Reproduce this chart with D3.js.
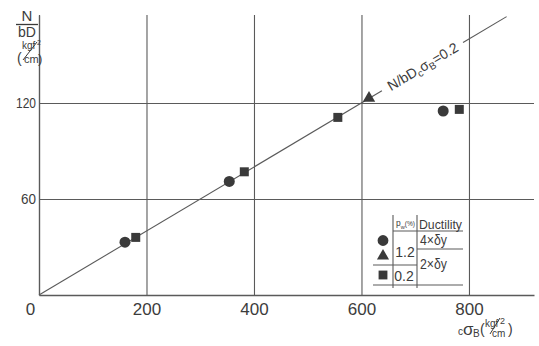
<!DOCTYPE html>
<html>
<head>
<meta charset="utf-8">
<script src="https://cdn.jsdelivr.net/npm/d3@7"></script>
<style>
  body { margin: 0; background: #fff; }
  svg { display: block; }
  text { font-family: "Liberation Sans", Arial, sans-serif; fill: #3c3c3c; }
</style>
</head>
<body>
<svg id="chart" width="539" height="346"></svg>
<script>
// Axis ticks
const xTicks = [0, 200, 400, 600, 800];
const yTicks = [60, 120];

// pw = 1.2 %, ductility 4×δy
const circleX = [160, 354, 752];
const circleY = [33, 71, 115];
// pw = 1.2 %, ductility 2×δy
const triangleX = [614];
const triangleY = [123];
// pw = 0.2 %, ductility 2×δy
const squareX = [180, 382, 556, 782];
const squareY = [36, 77, 111, 116];

// Reference line N/bD·cσB = 0.2, drawn with a gap for its label
const ratio = 0.2;
const ratioSegments = [[0, 638], [789, 870]];
const ratioLabelAt = 714;

// Legend rows
const legendPw = ["1.2", "0.2"];
const legendDuct = ["4×δy", "2×δy"];

const svg = d3.select("#chart");
const ink = "#3a3a3a";
const grid = "#5a5a5a";

const x = d3.scaleLinear().domain([0, 921]).range([39, 534]);
const y = d3.scaleLinear().domain([0, 175]).range([295, 15]);

// x axis with vertical grid lines
const gx = svg.append("g")
  .attr("transform", `translate(0,${y(0)})`)
  .call(d3.axisBottom(x).tickValues(xTicks)
    .tickSize(-(y(0) - y(175))).tickSizeOuter(0).tickPadding(8));
gx.select(".domain").attr("stroke", grid).attr("stroke-width", 1.3);
gx.selectAll(".tick line").attr("stroke", grid).attr("stroke-width", 1.1);
gx.selectAll(".tick text")
  .attr("font-size", 17).attr("fill", "#444")
  .attr("font-family", "Liberation Sans, Arial, sans-serif")
  .attr("dx", d => d === 0 ? -9 : 0);

// y axis with horizontal grid lines
const gy = svg.append("g")
  .attr("transform", `translate(${x(0)},0)`)
  .call(d3.axisLeft(y).tickValues(yTicks)
    .tickSize(-(x(921) - x(0))).tickSizeOuter(0).tickPadding(3));
gy.select(".domain").attr("stroke", grid).attr("stroke-width", 1.3);
gy.selectAll(".tick line").attr("stroke", grid).attr("stroke-width", 1.1);
gy.selectAll(".tick text")
  .attr("font-size", 15).attr("fill", "#444")
  .attr("font-family", "Liberation Sans, Arial, sans-serif")
  .attr("textLength", d => d >= 100 ? 20 : 15)
  .attr("lengthAdjust", "spacingAndGlyphs");

// Ratio line
const line = d3.line().x(d => x(d)).y(d => y(ratio * d));
svg.append("g").selectAll("path")
  .data(ratioSegments)
  .join("path")
  .attr("d", d => line(d))
  .attr("fill", "none").attr("stroke", grid).attr("stroke-width", 1.1);

const angle = -Math.atan2(y(0) - y(ratio * 100), x(100) - x(0)) * 180 / Math.PI;
const rl = svg.append("text")
  .attr("transform", `translate(${x(ratioLabelAt)},${y(ratio * ratioLabelAt)}) rotate(${angle})`)
  .attr("text-anchor", "middle").attr("dy", "0.35em")
  .attr("font-size", 14).attr("fill", "#333");
rl.append("tspan").text("N/bD");
rl.append("tspan").attr("font-size", 10).attr("dy", 3).text("c");
rl.append("tspan").attr("dy", -3).text("σ");
rl.append("tspan").attr("font-size", 10).attr("dy", 3).text("B");
rl.append("tspan").attr("dy", -3).text("=0.2");

// Data markers
const sym = (type, size) => d3.symbol().type(type).size(size)();
const markers = svg.append("g").attr("fill", ink);
markers.selectAll(".c").data(circleX.map((v, i) => [v, circleY[i]])).join("path")
  .attr("d", sym(d3.symbolCircle, 95))
  .attr("transform", d => `translate(${x(d[0])},${y(d[1])})`);
markers.selectAll(".t").data(triangleX.map((v, i) => [v, triangleY[i]])).join("path")
  .attr("d", sym(d3.symbolTriangle, 66))
  .attr("transform", d => `translate(${x(d[0])},${y(d[1])})`);
markers.selectAll(".s").data(squareX.map((v, i) => [v, squareY[i]])).join("path")
  .attr("d", sym(d3.symbolSquare, 81))
  .attr("transform", d => `translate(${x(d[0])},${y(d[1])})`);

// Y-axis title: N / bD (kgf/cm²)
const yt = svg.append("g");
yt.append("text").attr("x", 27).attr("y", 21).attr("text-anchor", "middle")
  .attr("font-size", 15).text("N");
yt.append("line").attr("x1", 16).attr("x2", 38).attr("y1", 24.5).attr("y2", 24.5)
  .attr("stroke", ink).attr("stroke-width", 1.3);
yt.append("text").attr("x", 27).attr("y", 37).attr("text-anchor", "middle")
  .attr("font-size", 14).text("bD");
yt.append("text").attr("x", 22).attr("y", 49).attr("font-size", 10).text("kgf");
yt.append("text").attr("x", 37).attr("y", 45).attr("font-size", 7).text("2");
yt.append("text").attr("x", 17).attr("y", 63).attr("font-size", 14).text("(");
yt.append("text").attr("x", 24).attr("y", 63).attr("font-size", 11).text("cm");
yt.append("text").attr("x", 38).attr("y", 63).attr("font-size", 13).text(")");
yt.append("line").attr("x1", 23).attr("x2", 37).attr("y1", 60).attr("y2", 42)
  .attr("stroke", ink).attr("stroke-width", 1);

// X-axis title: cσB (kgf/cm²)
const xt = svg.append("g");
xt.append("text").attr("x", 458).attr("y", 335).attr("font-size", 10).text("c");
xt.append("text").attr("x", 463).attr("y", 335).attr("font-size", 17).text("σ");
xt.append("text").attr("x", 473).attr("y", 337).attr("font-size", 10).text("B");
xt.append("text").attr("x", 480).attr("y", 334).attr("font-size", 14).text("(");
xt.append("text").attr("x", 485).attr("y", 327).attr("font-size", 10).text("kgf");
xt.append("text").attr("x", 500).attr("y", 324).attr("font-size", 9).text("2");
xt.append("text").attr("x", 492).attr("y", 337).attr("font-size", 10).text("cm");
xt.append("text").attr("x", 508).attr("y", 334).attr("font-size", 14).text(")");
xt.append("line").attr("x1", 490).attr("x2", 500).attr("y1", 334).attr("y2", 318)
  .attr("stroke", ink).attr("stroke-width", 1);

// Legend table
const lg = svg.append("g").attr("stroke", grid).attr("stroke-width", 1.1);
const rules = [
  [393, 215, 393, 288], [417, 215, 417, 288],
  [393, 231, 463, 231], [417, 249, 463, 249],
  [373, 265, 417, 265], [373, 285, 463, 285]
];
lg.selectAll("line").data(rules).join("line")
  .attr("x1", d => d[0]).attr("y1", d => d[1]).attr("x2", d => d[2]).attr("y2", d => d[3]);

const lt = svg.append("g");
const hdr = lt.append("text").attr("x", 396).attr("y", 226).attr("font-size", 9)
  .attr("textLength", 19).attr("lengthAdjust", "spacingAndGlyphs");
hdr.append("tspan").text("p");
hdr.append("tspan").attr("font-size", 6).attr("dy", 3).text("w");
hdr.append("tspan").attr("font-size", 7).attr("dy", -3).text("(%)");
lt.append("text").attr("x", 419).attr("y", 229).attr("font-size", 12.5)
  .attr("textLength", 43).attr("lengthAdjust", "spacingAndGlyphs").text("Ductility");
lt.append("text").attr("x", 405).attr("y", 257).attr("text-anchor", "middle")
  .attr("font-size", 14).text(legendPw[0]);
lt.append("text").attr("x", 404).attr("y", 281).attr("text-anchor", "middle")
  .attr("font-size", 14).text(legendPw[1]);
lt.append("text").attr("x", 420).attr("y", 245).attr("font-size", 14)
  .attr("textLength", 27).attr("lengthAdjust", "spacingAndGlyphs").text(legendDuct[0]);
lt.append("text").attr("x", 420).attr("y", 269).attr("font-size", 14)
  .attr("textLength", 27).attr("lengthAdjust", "spacingAndGlyphs").text(legendDuct[1]);

const lm = svg.append("g").attr("fill", ink);
lm.append("path").attr("d", sym(d3.symbolCircle, 92)).attr("transform", "translate(383,240.5)");
lm.append("path").attr("d", sym(d3.symbolTriangle, 64)).attr("transform", "translate(383,256)");
lm.append("path").attr("d", sym(d3.symbolSquare, 78)).attr("transform", "translate(383,275)");
</script>
</body>
</html>
